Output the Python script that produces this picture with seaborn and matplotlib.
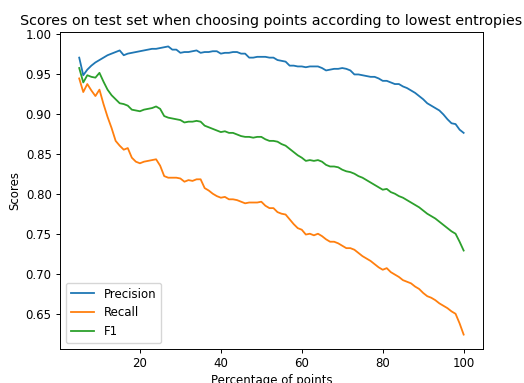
import numpy as np
import pandas as pd
import matplotlib
matplotlib.use("Agg")
import matplotlib.pyplot as plt
import seaborn as sns

percent = list(range(5, 101))

precision = [0.970, 0.948, 0.955, 0.960, 0.964, 0.967, 0.970, 0.973, 0.975, 0.977,
             0.979, 0.973, 0.975, 0.976, 0.977, 0.978, 0.979, 0.980, 0.981, 0.981,
             0.982, 0.983, 0.984, 0.980, 0.980, 0.976, 0.977, 0.977, 0.978, 0.979,
             0.976, 0.977, 0.977, 0.978, 0.978, 0.975, 0.976, 0.976, 0.977, 0.977,
             0.975, 0.975, 0.970, 0.970, 0.971, 0.971, 0.971, 0.970, 0.970, 0.967,
             0.966, 0.965, 0.960, 0.960, 0.959, 0.959, 0.958, 0.959, 0.959, 0.959,
             0.957, 0.954, 0.955, 0.956, 0.956, 0.957, 0.956, 0.954, 0.949, 0.949,
             0.948, 0.947, 0.946, 0.946, 0.944, 0.941, 0.941, 0.939, 0.937, 0.937,
             0.934, 0.932, 0.929, 0.926, 0.922, 0.918, 0.913, 0.910, 0.907, 0.904,
             0.899, 0.893, 0.888, 0.887, 0.880, 0.876]

recall = [0.944, 0.927, 0.937, 0.929, 0.922, 0.930, 0.912, 0.896, 0.882, 0.866,
          0.860, 0.855, 0.857, 0.845, 0.840, 0.838, 0.840, 0.841, 0.842, 0.843,
          0.835, 0.822, 0.820, 0.820, 0.820, 0.819, 0.815, 0.817, 0.816, 0.818,
          0.818, 0.807, 0.804, 0.800, 0.797, 0.795, 0.796, 0.793, 0.793, 0.792,
          0.790, 0.788, 0.789, 0.789, 0.789, 0.790, 0.785, 0.782, 0.782, 0.777,
          0.775, 0.774, 0.768, 0.762, 0.757, 0.755, 0.749, 0.750, 0.748, 0.750,
          0.747, 0.743, 0.740, 0.740, 0.738, 0.735, 0.732, 0.732, 0.730, 0.726,
          0.722, 0.719, 0.716, 0.712, 0.708, 0.705, 0.707, 0.702, 0.699, 0.696,
          0.692, 0.690, 0.688, 0.684, 0.681, 0.676, 0.672, 0.670, 0.667, 0.663,
          0.660, 0.657, 0.653, 0.650, 0.638, 0.624]

f1 = [0.957, 0.939, 0.948, 0.946, 0.945, 0.951, 0.940, 0.930, 0.923, 0.918,
      0.913, 0.912, 0.910, 0.905, 0.904, 0.903, 0.905, 0.906, 0.907, 0.909,
      0.906, 0.897, 0.895, 0.894, 0.893, 0.892, 0.889, 0.890, 0.890, 0.891,
      0.890, 0.885, 0.883, 0.881, 0.879, 0.877, 0.878, 0.876, 0.876, 0.874,
      0.872, 0.871, 0.871, 0.870, 0.871, 0.871, 0.868, 0.866, 0.866, 0.865,
      0.862, 0.860, 0.856, 0.852, 0.848, 0.845, 0.841, 0.842, 0.841, 0.842,
      0.840, 0.836, 0.834, 0.834, 0.833, 0.830, 0.828, 0.827, 0.825, 0.822,
      0.820, 0.817, 0.814, 0.811, 0.808, 0.805, 0.806, 0.802, 0.800, 0.797,
      0.795, 0.792, 0.789, 0.786, 0.783, 0.779, 0.775, 0.772, 0.769, 0.765,
      0.761, 0.757, 0.753, 0.750, 0.740, 0.729]

series_names = ["Precision", "Recall", "F1"]

frames = []
for name, vals in zip(series_names, [precision, recall, f1]):
    frames.append(pd.DataFrame({"Percentage of points": percent, "Scores": vals, "metric": name}))
df = pd.concat(frames, ignore_index=True)

plt.rcParams.update({
    "font.size": 8.5,
    "axes.linewidth": 0.7,
    "xtick.major.width": 0.7,
    "ytick.major.width": 0.7,
    "xtick.major.size": 3,
    "ytick.major.size": 3,
})

fig = plt.figure(figsize=(5.24, 3.83), dpi=100)
ax = fig.add_axes([0.1145, 0.0888, 0.807, 0.8276])
sns.lineplot(data=df, x="Percentage of points", y="Scores", hue="metric",
             palette=["#1f77b4", "#ff7f0e", "#2ca02c"], ax=ax, linewidth=1.3)
ax.set_title("Scores on test set when choosing points according to lowest entropies",
             fontsize=10.3, pad=5)
ax.set_xlabel("Percentage of points", fontsize=8.5, labelpad=3)
ax.set_ylabel("Scores", fontsize=8.5, labelpad=3)
ax.set_xticks([20, 40, 60, 80, 100])
ax.tick_params(labelsize=8.5, pad=3)
ax.legend(loc="lower left", title=None, fontsize=8.5)
fig.savefig("out.png", dpi=100)
